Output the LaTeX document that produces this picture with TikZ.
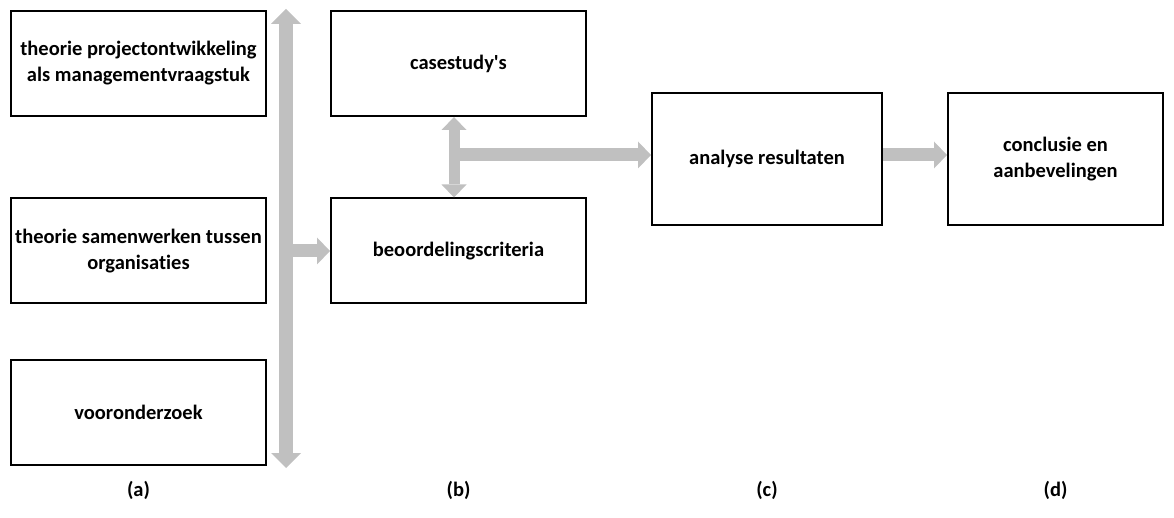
\documentclass[tikz,border=0pt]{standalone}
\usepackage{fontspec}
\setmainfont{Carlito}[Ligatures=NoCommon]
\usetikzlibrary{arrows.meta}
\definecolor{arrgrey}{RGB}{192,192,192}
\newcommand{\tx}{\fontsize{20.5}{26}\selectfont\bfseries}

\begin{document}
\begin{tikzpicture}[x=1pt,y=-1pt,
  box/.style={draw=black,line width=2pt,minimum width=255pt,minimum height=105pt,
              align=center,font=\tx,inner sep=0pt},
  blk/.style={draw=arrgrey,line width=13pt,
              -{Triangle[length=13pt,width=27pt,line width=0pt]}},
  blkbar/.style={draw=arrgrey,line width=14pt,
              {Triangle[length=15pt,width=30pt,line width=0pt]}-{Triangle[length=15pt,width=30pt,line width=0pt]}},
  blkdbl/.style={draw=arrgrey,line width=11pt,
              {Triangle[length=13pt,width=25pt,line width=0pt]}-{Triangle[length=13pt,width=25pt,line width=0pt]}},
  lbl/.style={font=\tx,inner sep=0pt}]
  \useasboundingbox (0,0) rectangle (1174,518);

  % kolom (a)
  \node[box] (theoA) at (138.5, 63.5) {theorie projectontwikkeling\\als managementvraagstuk};
  \node[box] (theoB) at (138.5,251.0) {theorie samenwerken tussen\\organisaties};
  \node[box] (voor)  at (138.5,412.0) {vooronderzoek};
  % kolom (b)
  \node[box] (cases) at (458.5, 63.5) {casestudy\textquotesingle s};
  \node[box] (crit)  at (458.5,251.0) {beoordelingscriteria};
  % kolom (c) en (d)
  \node[box,minimum width=230pt,minimum height=132pt] (anal) at (767,159) {analyse resultaten};
  \node[box,minimum width=215pt,minimum height=132pt] (concl) at (1055.5,159) {conclusie en\\aanbevelingen};

  \coordinate (bartop) at (286,9);
  \coordinate (barbot) at (286,468);
  \coordinate (hub)    at (454,155);

  \draw[blkbar] (bartop) -- (barbot);
  \draw[blk] (bartop |- crit) -- (crit.west);
  \draw[blkdbl] (cases.south -| hub) -- (crit.north -| hub);
  \draw[blk] (hub) -- (hub -| anal.west);
  \draw[blk] (anal.east |- hub) -- (concl.west |- hub);

  \node[lbl] (la) at (138.5,490) {(a)};
  \node[lbl] (lb) at (458.5,490) {(b)};
  \node[lbl] (lc) at (767,490)   {(c)};
  \node[lbl] (ld) at (1055.5,490) {(d)};
\end{tikzpicture}
\end{document}
